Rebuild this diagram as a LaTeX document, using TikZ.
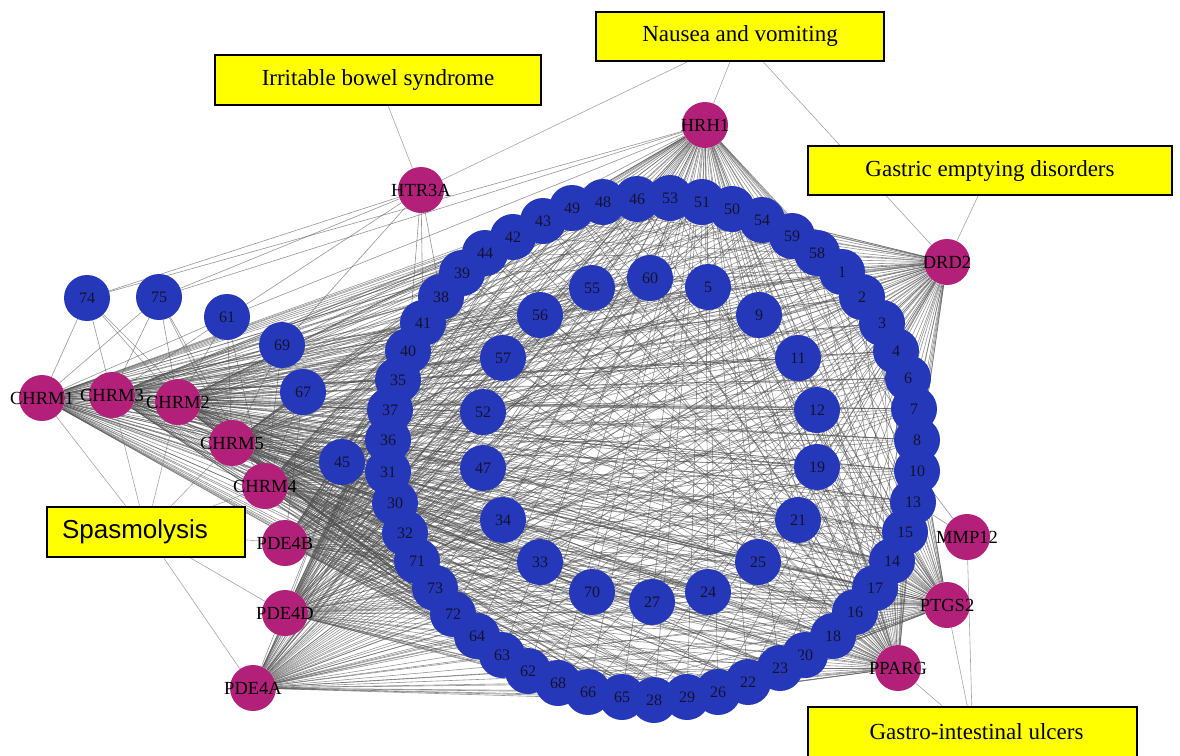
\documentclass[tikz,border=0pt]{standalone}
\usepackage{fontspec}
\setmainfont{Liberation Serif}
\newfontfamily\boxsans{Liberation Sans}
\pgfdeclarelayer{paper}
\pgfdeclarelayer{edges}
\pgfsetlayers{paper,edges,main}

\definecolor{cpdblue}{RGB}{38,56,186}
\definecolor{tgtmag}{RGB}{178,32,122}
\definecolor{boxyellow}{RGB}{255,255,0}
\definecolor{edgegray}{RGB}{80,80,80}
\definecolor{numink}{RGB}{18,18,45}

\tikzset{
  cpd/.style={circle,fill=cpdblue,minimum size=46pt,inner sep=0pt,
    font=\fontsize{16}{16}\selectfont,text=numink},
  tgt/.style={circle,fill=tgtmag,minimum size=46pt,inner sep=0pt},
  tgtlabel/.style={font=\fontsize{18.5}{18.5}\selectfont,text=black,inner sep=0pt},
  disease/.style={draw=black,line width=2pt,fill=boxyellow,inner sep=0pt,
    font=\fontsize{23}{23}\selectfont,text=black},
  edge/.style={draw=edgegray,line width=0.6pt,opacity=0.6},
  dlink/.style={draw=gray,line width=0.6pt,opacity=0.7}
}

\def\outerring{43,49,48,46,53,51,50,54,59,58,1,2,3,4,6,7,8,10,13,15,14,17,16,18,20,23,22,26,29,28,65,66,68,62,63,64,72,73,71,32,30,31,36,37,35,40,41,38,39,44,42}
\def\innerring{60,5,9,11,12,19,21,25,24,27,70,33,34,47,52,57,56,55}

\begin{document}
\begin{tikzpicture}[x=1pt,y=-1pt]
\begin{pgfonlayer}{paper}
\fill[white] (0,0) rectangle (1180,755);
\end{pgfonlayer}
\useasboundingbox (0,0) rectangle (1180,755);

% disease boxes
\node[disease,minimum width=288pt,minimum height=49pt] (nausea) at (740,36.5) {Nausea and vomiting};
\node[disease,minimum width=326pt,minimum height=50pt] (ibs) at (378,80) {Irritable bowel syndrome};
\node[disease,minimum width=364pt,minimum height=49pt] (gastric) at (990,170.5) {Gastric emptying disorders};
\node[disease,minimum width=198pt,minimum height=50pt,font=\boxsans\fontsize{26}{26}\selectfont] (spasmo) at (146,532) {\hspace*{-22pt}Spasmolysis};
\node[disease,minimum width=329pt,minimum height=50pt] (ulcers) at (972.5,732) {\hspace*{8pt}Gastro-intestinal ulcers};

% outer ring of compounds
\foreach \n/\x/\y in {43/543/221,49/572/208,48/603/202,46/637/199,53/670/198,51/702/202,
  50/732/209,54/762/220,59/792/236,58/817/253,1/842/272,2/862/297,3/882/323,4/896/351,
  6/908/378,7/914/409,8/917/440,10/917/471,13/913/502,15/905/532,14/892/561,17/875/588,
  16/855/612,18/833/636,20/805/655,23/780/668,22/748/682,26/718/692,29/687/697,28/654/700,
  65/622/697,66/588/692,68/558/683,62/528/671,63/502/655,64/477/636,72/453/614,73/435/588,
  71/417/561,32/405/533,30/395/503,31/388/472,36/388/440,37/390/410,35/398/380,40/408/351,
  41/423/323,38/441/297,39/462/273,44/485/253,42/513/237}
  \node[cpd] (n\n) at (\x,\y) {\n};

% inner ring of compounds
\foreach \n/\x/\y in {60/650/278,5/708/287,9/759/315,11/798/358,12/817/410,19/817/467,
  21/798/520,25/758/562,24/708/592,27/652/602,70/592/592,33/540/562,34/503/520,
  47/483/468,52/483/412,57/503/358,56/540/315,55/592/288}
  \node[cpd] (n\n) at (\x,\y) {\n};

% compounds outside the rings
\foreach \n/\x/\y in {74/87/298,75/159/297,61/227/317,69/282/345,67/303/392,45/342/462}
  \node[cpd] (n\n) at (\x,\y) {\n};

% targets
\foreach \n/\x/\y in {CHRM1/42/398,CHRM3/112/395,CHRM2/178/402,CHRM5/232/443,
  CHRM4/265/486,PDE4B/285/543,PDE4D/285/613,PDE4A/253/688,HTR3A/421/190,
  HRH1/705/125,DRD2/947/262,MMP12/967/537,PTGS2/947/605,PPARG/898/668}
  \node[tgt,label={[tgtlabel]center:\n}] (\n) at (\x,\y) {};

\begin{pgfonlayer}{edges}
  % compound-target interactions
  \foreach \t in {HRH1,DRD2,PDE4B,PDE4D,PDE4A,PTGS2,PPARG,CHRM1,CHRM2,CHRM3,CHRM4,CHRM5}{
    \foreach \c in \outerring { \draw[edge] (\t) -- (n\c); }
    \foreach \c in \innerring { \draw[edge] (\t) -- (n\c); }
  }
  \foreach \c/\t in {74/CHRM1,74/CHRM3,74/CHRM2,74/CHRM5,74/HRH1,
    75/CHRM1,75/CHRM3,75/CHRM2,75/CHRM5,75/CHRM4,75/HRH1,75/HTR3A,
    61/CHRM1,61/CHRM3,61/CHRM2,61/CHRM5,61/CHRM4,61/HRH1,
    69/CHRM3,69/CHRM2,69/CHRM5,69/CHRM4,69/HRH1,69/DRD2,
    67/CHRM1,67/CHRM2,67/CHRM5,67/CHRM4,67/HRH1,67/DRD2,67/PDE4B,
    45/CHRM1,45/CHRM3,45/CHRM2,45/CHRM5,45/CHRM4,45/HRH1,45/DRD2,
    45/PDE4B,45/PDE4D,45/PDE4A,45/PTGS2,
    74/HTR3A,61/HTR3A,69/HTR3A,41/HTR3A,38/HTR3A,40/HTR3A,
    10/MMP12,13/MMP12}
    \draw[edge] (n\c) -- (\t);

  % disease-target associations
  \foreach \d/\t in {ibs/HTR3A,nausea/HRH1,nausea/HTR3A,nausea/DRD2,gastric/DRD2,
    spasmo/CHRM1,spasmo/CHRM3,spasmo/CHRM2,spasmo/CHRM5,spasmo/CHRM4,
    spasmo/PDE4B,spasmo/PDE4D,spasmo/PDE4A,
    ulcers/PPARG,ulcers/PTGS2,ulcers/MMP12}
    \draw[dlink] (\d) -- (\t);
\end{pgfonlayer}
\end{tikzpicture}
\end{document}
